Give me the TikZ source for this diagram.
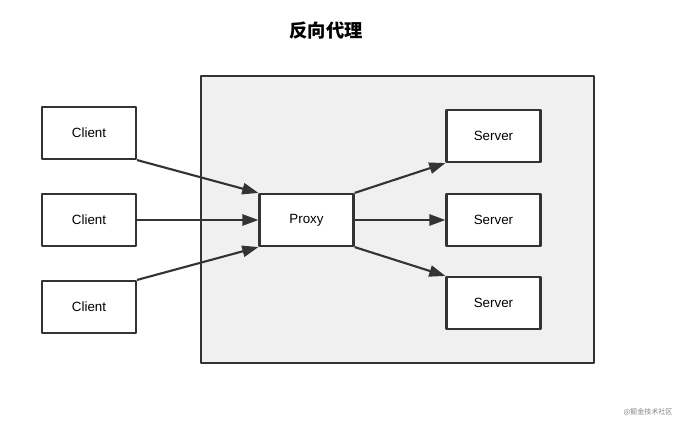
\documentclass[tikz,border=0pt]{standalone}
\usepackage{fontspec}
\setmainfont{Liberation Sans}
\newfontfamily\cjk{Noto Sans CJK SC}
\usetikzlibrary{arrows.meta}
\definecolor{linegray}{HTML}{333333}
\definecolor{panelgray}{HTML}{F0F0F0}
\begin{document}
\begin{tikzpicture}[x=0.025cm, y=-0.025cm, line join=round, >={Triangle[length=11.5pt,width=8pt]}, font=\fontsize{9.5}{11}\selectfont]
	\tikzset{
		box/.style={draw=linegray, line width=1.5pt, fill=white, minimum width=2.35cm, minimum height=1.3cm, inner sep=0pt},
		link/.style={->, draw=linegray, line width=1.5pt}
	}
	\useasboundingbox (0,0) rectangle (681,425);
	% Tiêu đề
	\node (title) at (326,31) {\cjk\bfseries\fontsize{13}{15}\selectfont 反向代理};
	% Khung nền
	\draw [linegray, line width=1.5pt, fill=panelgray] (201,76) rectangle (594,363);
	% Các client
	\node [box] (c1) at (89,133) {Client};
	\node [box] (c2) at (89,220) {Client};
	\node [box] (c3) at (89,307) {Client};
	% Proxy
	\node [box] (proxy) at (306.5,220) {Proxy};
	% Các server
	\node [box] (s1) at (493.5,136) {Server};
	\node [box] (s2) at (493.5,220) {Server};
	\node [box] (s3) at (493.5,303) {Server};
	% Mũi tên
	\draw [link] (c1.south east) -- (proxy.north west);
	\draw [link] (c2) -- (proxy);
	\draw [link] (c3.north east) -- (proxy.south west);
	\draw [link] (proxy.north east) -- (s1.south west);
	\draw [link] (proxy) -- (s2);
	\draw [link] (proxy.south east) -- (s3.north west);
	% Watermark
	\node [text=gray, font=\cjk\fontsize{5}{6}\selectfont] (mark) at (648,412) {@掘金技术社区};
\end{tikzpicture}
\end{document}
